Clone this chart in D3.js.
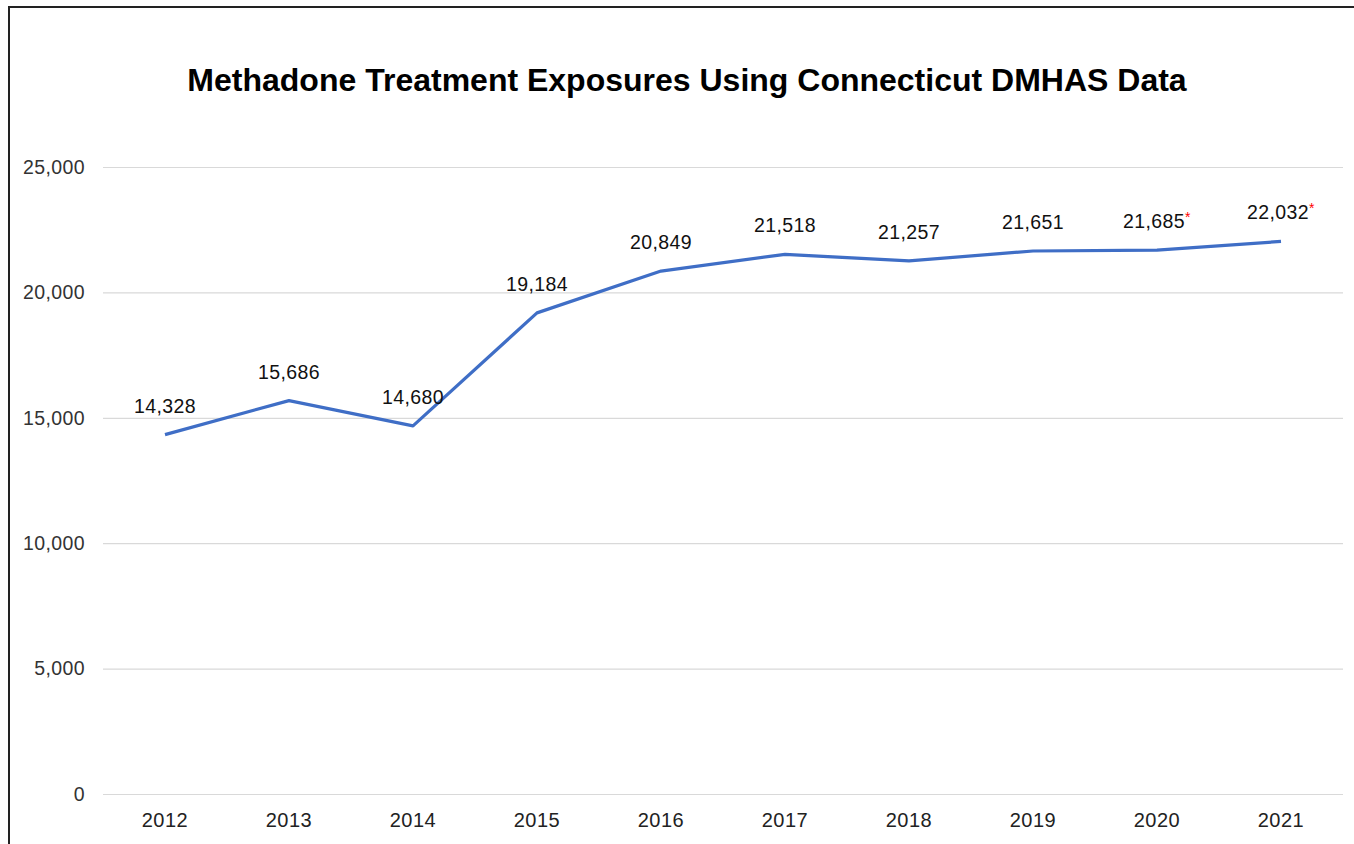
<!DOCTYPE html>
<html><head><meta charset="utf-8">
<script src="https://cdn.jsdelivr.net/npm/d3@7"></script>
<style>
html,body{margin:0;padding:0;background:#fff;}
svg{display:block;font-family:"Liberation Sans",Arial,sans-serif;}
</style></head>
<body>
<svg id="chart" width="1354" height="844"></svg>
<script>
const years = ["2012","2013","2014","2015","2016","2017","2018","2019","2020","2021"];
const exposures = [14328,15686,14680,19184,20849,21518,21257,21651,21685,22032];
const flagged = [false,false,false,false,false,false,false,false,true,true];
const yTicks = [0,5000,10000,15000,20000,25000];
const title = "Methadone Treatment Exposures Using Connecticut DMHAS Data";

const svg = d3.select("#chart");
const W = 1354, H = 844;
const m = {left:103, right:11, top:167, bottom:50};

svg.append("rect").attr("x",9).attr("y",7).attr("width",W+20).attr("height",H+20)
  .attr("fill","#fff").attr("stroke","#222").attr("stroke-width",2);

const x = d3.scaleBand().domain(years).range([m.left, W-m.right]);
const y = d3.scaleLinear().domain([0,25000]).range([794,167]);

svg.append("text").attr("x",687).attr("y",91).attr("text-anchor","middle")
  .attr("font-weight","bold").attr("font-size",32).attr("fill","#000").text(title);

const fmt = d3.format(",");
const yAxis = d3.axisLeft(y).tickValues(yTicks).tickSize(-(W-m.right-m.left)).tickFormat(fmt).tickPadding(18);
const gy = svg.append("g").attr("transform",`translate(${m.left},0)`).call(yAxis);
gy.select(".domain").remove();
gy.selectAll(".tick line").attr("stroke","#d9d9d9").attr("stroke-width",1.2);
gy.selectAll(".tick text").attr("font-size",19.5).attr("letter-spacing",0.4).attr("fill","#333").attr("font-family","Liberation Sans, Arial, sans-serif");

const xAxis = d3.axisBottom(x).tickSize(0).tickPadding(19);
const gx = svg.append("g").attr("transform",`translate(0,794)`).call(xAxis);
gx.select(".domain").remove();
gx.selectAll(".tick text").attr("font-size",20).attr("letter-spacing",0.5).attr("fill","#222").attr("font-family","Liberation Sans, Arial, sans-serif");

const cx = d => x(d) + x.bandwidth()/2;
const line = d3.line().x((d,i)=>cx(years[i])).y(d=>y(d));
svg.append("path").datum(exposures).attr("d",line).attr("fill","none")
  .attr("stroke","#3f6ec6").attr("stroke-width",3.2).attr("stroke-linejoin","round");

const lbl = svg.append("g").selectAll("text").data(exposures).join("text")
  .attr("x",(d,i)=>cx(years[i])).attr("y",d=>y(d)-22)
  .attr("text-anchor","middle").attr("font-size",19.5).attr("letter-spacing",0.4).attr("fill","#111");
lbl.append("tspan").text(d=>fmt(d));
lbl.filter((d,i)=>flagged[i]).append("tspan").attr("fill","#ff0000").attr("font-size",14).attr("dy",-6).text("*");
</script>
</body></html>
